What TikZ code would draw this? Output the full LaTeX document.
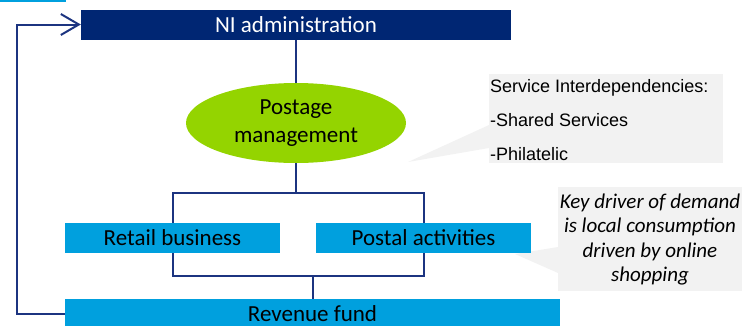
\documentclass[tikz,border=0pt]{standalone}
\usepackage{fontspec}
\setmainfont{Carlito}
\newfontfamily\arialf{Liberation Sans}
\usetikzlibrary{shapes.geometric,arrows.meta}
\definecolor{navy}{RGB}{0,38,115}
\definecolor{cyanb}{RGB}{0,160,222}
\definecolor{limeg}{RGB}{148,212,0}
\definecolor{calloutg}{RGB}{242,242,242}
\definecolor{linec}{RGB}{28,52,128}
\begin{document}
\begin{tikzpicture}[x=1pt,y=-1pt,
  boxnode/.style={rectangle, inner sep=0pt, minimum height=30pt, font=\fontsize{23}{28}\selectfont},
  conn/.style={draw=linec, line width=2pt},
  calloutfill/.style={fill=calloutg, draw=none},
  arialtxt/.style={anchor=base west, inner sep=0pt, font=\arialf\fontsize{18}{22}\selectfont},
  itxt/.style={anchor=base, inner sep=0pt, font=\itshape\fontsize{21}{25}\selectfont}]
\clip (0,0) rectangle (744,325);
% small cyan fragment at top left
\fill[cyanb] (0,0) rectangle (66,2);
% callouts
\path[calloutfill] (489,74) rectangle (723,163);
\path[calloutfill] (489,125) -- (408,162) -- (489,148) -- cycle;
\path[calloutfill] (558,187) rectangle (742,291);
\path[calloutfill] (558,247) -- (515,254) -- (558,273) -- cycle;
% nodes
\node[boxnode, fill=navy, text=white, minimum width=430pt] (ni) at (296,24.5) {NI administration};
\node[ellipse, fill=limeg, minimum width=220pt, minimum height=80pt, inner sep=0pt,
      align=center, font=\fontsize{23}{28}\selectfont] (pm) at (296,123) {Postage\\management};
\node[boxnode, fill=cyanb, minimum width=215pt] (rb) at (172.5,238) {Retail business};
\node[boxnode, fill=cyanb, minimum width=215pt] (pa) at (423.5,238) {Postal activities};
\node[boxnode, fill=cyanb, minimum width=495pt] (rf) at (312.5,314) {Revenue fund};
% callout texts
\node[arialtxt] (s1) at (490,92) {Service Interdependencies:};
\node[arialtxt] (s2) at (490,126) {-Shared Services};
\node[arialtxt] (s3) at (490,160) {-Philatelic};
\node[itxt] (k1) at (650,208) {Key driver of demand};
\node[itxt] (k2) at (650,232.5) {is local consumption};
\node[itxt] (k3) at (650,257) {driven by online};
\node[itxt] (k4) at (650,281.5) {shopping};
% connectors
\coordinate (j1) at (296,193);
\coordinate (j2) at (312.5,276);
\coordinate (fb) at (17,0);
\draw[conn] (ni.south) -- (pm.north);
\draw[conn] (pm.south) -- (j1);
\draw[conn] (rb.north) |- (j1) -| (pa.north);
\draw[conn] (rb.south) |- (j2) -| (pa.south);
\draw[conn] (j2) -- (rf.north);
\draw[conn, -{Straight Barb[length=18pt, width=21pt, line width=2pt]}]
  (rf.west) -- (rf.west -| fb) -- (fb |- ni.west) -- (ni.west);
\end{tikzpicture}
\end{document}
